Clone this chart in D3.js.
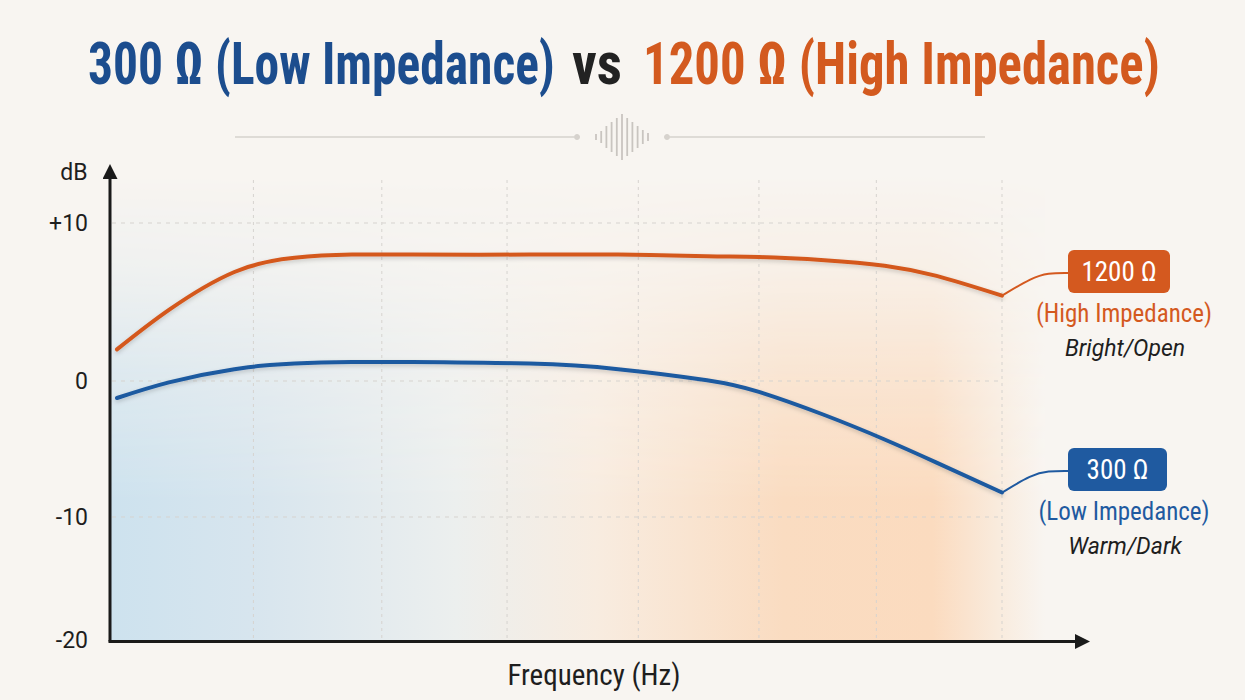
<!DOCTYPE html>
<html>
<head>
<meta charset="utf-8">
<script src="https://cdn.jsdelivr.net/npm/d3@7"></script>
<style>
	body { margin: 0; background: #f8f5f1; }
	svg { display: block; }
</style>
</head>
<body>
<div id="viz"></div>
<script>
var width = 1245;
var height = 700;

// frequency points (Hz) of the two response curves
var freqs = [20, 30, 50, 80, 125, 200, 500, 1000, 2000, 3000, 5000, 8000, 12000, 20000];
// dB values
var high_db = [2.0, 4.5, 6.9, 7.8, 8.0, 8.0, 8.0, 8.0, 7.9, 7.85, 7.65, 7.3, 6.65, 5.4];
var low_db = [-1.25, -0.1, 0.75, 1.1, 1.2, 1.2, 1.1, 0.75, 0.05, -0.8, -2.5, -4.3, -6.0, -8.2];
// dashed grid
var grid_freqs = [58, 158, 420, 1170, 3000, 7500, 20000];
var db_ticks = [10, 0, -10, -20];
var db_grid = [10, 0, -10];
var tick_labels = ["+10", "0", "-10", "-20"];
// title pieces
var title_parts = ["300 Ω (Low Impedance)", "vs", "1200 Ω (High Impedance)"];
// waveform glyph bar heights
var wave_bars = [6, 12, 22, 30, 38, 46, 38, 30, 22, 14, 8];

var blue = "#1f5aa0";
var orange = "#d4591f";
var condensed = "'Roboto Condensed', 'Liberation Sans Narrow', 'DejaVu Sans Condensed', 'Arial Narrow', Roboto, sans-serif";

var x = d3.scaleLog()
	.domain([20, 20000])
	.range([117, 1002]);

// the printed axis is not evenly spaced, so use a piecewise scale
var y = d3.scaleLinear()
	.domain([-20, -10, 0, 10])
	.range([640, 517, 381, 223]);

var svg = d3.select("#viz").append("svg")
	.attr("width", width)
	.attr("height", height);

var defs = svg.append("defs");

var bg = defs.append("linearGradient")
	.attr("id", "bgGrad")
	.attr("x1", "0").attr("x2", "1").attr("y1", "0").attr("y2", "0");
[["0", "#cde2ee"], ["0.15", "#d7e5ee"], ["0.37", "#ecefee"], ["0.52", "#f8ece0"], ["0.72", "#fadcc1"], ["0.88", "#fbdbbf"], ["0.95", "#f9ebdd"], ["1", "#f8f5f1"]]
	.forEach(function(s) {
		bg.append("stop").attr("offset", s[0]).attr("stop-color", s[1]);
	});

var fade = defs.append("linearGradient")
	.attr("id", "fadeGrad")
	.attr("x1", "0").attr("x2", "0").attr("y1", "0").attr("y2", "1");
[["0", "#000"], ["0.2", "#333"], ["0.45", "#aaa"], ["0.7", "#fff"], ["1", "#fff"]]
	.forEach(function(s) {
		fade.append("stop").attr("offset", s[0]).attr("stop-color", s[1]);
	});

defs.append("mask")
	.attr("id", "fadeMask")
	.append("rect")
		.attr("x", 110).attr("y", 175)
		.attr("width", 935).attr("height", 465)
		.attr("fill", "url(#fadeGrad)");

var shadow = defs.append("filter")
	.attr("id", "soft")
	.attr("x", "-5%").attr("y", "-20%").attr("width", "110%").attr("height", "140%");
shadow.append("feDropShadow")
	.attr("dx", 0).attr("dy", 2).attr("stdDeviation", 2)
	.attr("flood-color", "#000").attr("flood-opacity", 0.18);

defs.append("marker")
	.attr("id", "arrow")
	.attr("viewBox", "0 0 10 10")
	.attr("refX", 2).attr("refY", 5)
	.attr("markerWidth", 5).attr("markerHeight", 5)
	.attr("orient", "auto")
	.append("path")
		.attr("d", "M0,0 L10,5 L0,10 z")
		.attr("fill", "#1a1a1a");

// tinted plot background
svg.append("rect")
	.attr("x", 110).attr("y", 175)
	.attr("width", 935).attr("height", 465)
	.attr("fill", "url(#bgGrad)")
	.attr("mask", "url(#fadeMask)");

// title, three pieces, each scaled to the width it has in the original
var title_layout = [
	{ x: 88, w: 467, color: "#1c4d8e" },
	{ x: 572, w: 50, color: "#222" },
	{ x: 643, w: 517, color: "#d35a1f" }
];
svg.selectAll(".title")
		.data(title_parts)
	.enter().append("text")
		.attr("class", "title")
		.attr("font-family", condensed)
		.attr("font-weight", "bold")
		.attr("font-size", 52)
		.attr("fill", function(d, i) { return title_layout[i].color; })
		.text(function(d) { return d; })
		.attr("transform", function(d, i) {
			var natural = this.getComputedTextLength();
			var sx = title_layout[i].w / natural;
			return "translate(" + title_layout[i].x + ",84) scale(" + sx + ",1.14)";
		});

// divider with waveform glyph
var deco = svg.append("g").attr("stroke", "#d6d2cd").attr("fill", "#d6d2cd");
deco.append("line").attr("x1", 235).attr("x2", 574).attr("y1", 137).attr("y2", 137).attr("stroke-width", 1.5);
deco.append("line").attr("x1", 670).attr("x2", 985).attr("y1", 137).attr("y2", 137).attr("stroke-width", 1.5);
deco.append("circle").attr("cx", 577).attr("cy", 137).attr("r", 2.5);
deco.append("circle").attr("cx", 667).attr("cy", 137).attr("r", 2.5);

var wx = d3.scaleLinear()
	.domain([0, wave_bars.length - 1])
	.range([596, 648]);
deco.selectAll(".wave")
		.data(wave_bars)
	.enter().append("line")
		.attr("class", "wave")
		.attr("x1", function(d, i) { return wx(i); })
		.attr("x2", function(d, i) { return wx(i); })
		.attr("y1", function(d) { return 137 - d / 2; })
		.attr("y2", function(d) { return 137 + d / 2; })
		.attr("stroke", "#c9c5c0")
		.attr("stroke-width", 1.8);

// grid
svg.append("g")
	.selectAll("line")
		.data(grid_freqs)
	.enter().append("line")
		.attr("x1", function(d) { return x(d); })
		.attr("x2", function(d) { return x(d); })
		.attr("y1", 180)
		.attr("y2", 638)
		.attr("stroke", "#d6d3cf")
		.attr("stroke-width", 1)
		.attr("stroke-dasharray", "3,4");

svg.append("g")
	.selectAll("line")
		.data(db_grid)
	.enter().append("line")
		.attr("x1", 112)
		.attr("x2", 1002)
		.attr("y1", function(d) { return y(d); })
		.attr("y2", function(d) { return y(d); })
		.attr("stroke", "#d6d3cf")
		.attr("stroke-width", 1)
		.attr("stroke-dasharray", "4,5");

// axes
svg.append("line")
	.attr("x1", 110).attr("y1", y(-20) + 1.5)
	.attr("x2", 110).attr("y2", 176)
	.attr("stroke", "#1a1a1a")
	.attr("stroke-width", 3)
	.attr("marker-end", "url(#arrow)");

svg.append("line")
	.attr("x1", 108.5).attr("y1", y(-20) + 1.5)
	.attr("x2", 1078).attr("y2", y(-20) + 1.5)
	.attr("stroke", "#1a1a1a")
	.attr("stroke-width", 3)
	.attr("marker-end", "url(#arrow)");

svg.append("g")
	.selectAll("text")
		.data(db_ticks)
	.enter().append("text")
		.attr("x", 88)
		.attr("y", function(d) { return y(d) + 8; })
		.attr("text-anchor", "end")
		.attr("font-family", "Roboto, 'Noto Sans', sans-serif")
		.attr("font-size", 23)
		.attr("fill", "#1e1e1e")
		.text(function(d, i) { return tick_labels[i]; });

svg.append("text")
	.attr("x", 74).attr("y", 180)
	.attr("text-anchor", "middle")
	.attr("font-family", "Roboto, 'Noto Sans', sans-serif")
	.attr("font-size", 23)
	.attr("fill", "#1e1e1e")
	.text("dB");

svg.append("text")
	.attr("x", 594).attr("y", 685)
	.attr("text-anchor", "middle")
	.attr("font-family", condensed)
	.attr("font-size", 29)
	.attr("fill", "#1e1e1e")
	.text("Frequency (Hz)");

// response curves
var line = d3.line()
	.x(function(d) { return x(d[0]); })
	.y(function(d) { return y(d[1]); })
	.curve(d3.curveNatural);

var series = [
	{ key: "high", color: orange, values: d3.zip(freqs, high_db), badge: "1200 Ω", sub: "(High Impedance)", note: "Bright/Open", by: 250, bw: 102 },
	{ key: "low", color: blue, values: d3.zip(freqs, low_db), badge: "300 Ω", sub: "(Low Impedance)", note: "Warm/Dark", by: 448, bw: 99 }
];

svg.selectAll(".curve")
		.data(series)
	.enter().append("path")
		.attr("class", "curve")
		.attr("d", function(d) { return line(d.values); })
		.attr("fill", "none")
		.attr("stroke", function(d) { return d.color; })
		.attr("stroke-width", 4)
		.attr("stroke-linecap", "round")
		.attr("filter", "url(#soft)");

// callouts
var connector = d3.line().curve(d3.curveBasis);

var callout = svg.selectAll(".callout")
		.data(series)
	.enter().append("g")
		.attr("class", "callout");

callout.append("path")
	.attr("d", function(d) {
		var last = d.values[d.values.length - 1];
		var sx = x(last[0]), sy = y(last[1]);
		var ey = d.by + 23;
		return connector([[sx, sy], [sx + 30, sy - 18], [1048, ey], [1068, ey]]);
	})
	.attr("fill", "none")
	.attr("stroke", function(d) { return d.color; })
	.attr("stroke-width", 2);

callout.append("rect")
	.attr("x", 1068)
	.attr("y", function(d) { return d.by; })
	.attr("width", function(d) { return d.bw; })
	.attr("height", 43)
	.attr("rx", 6)
	.attr("fill", function(d) { return d.color; });

callout.append("text")
	.attr("x", function(d) { return 1068 + d.bw / 2; })
	.attr("y", function(d) { return d.by + 31; })
	.attr("text-anchor", "middle")
	.attr("font-family", condensed)
	.attr("font-size", 27)
	.attr("fill", "#fff")
	.text(function(d) { return d.badge; });

callout.append("text")
	.attr("x", 1124)
	.attr("y", function(d) { return d.by + 72; })
	.attr("text-anchor", "middle")
	.attr("font-family", condensed)
	.attr("font-size", 25)
	.attr("fill", function(d) { return d.color; })
	.text(function(d) { return d.sub; });

callout.append("text")
	.attr("x", 1125)
	.attr("y", function(d) { return d.by + 106; })
	.attr("text-anchor", "middle")
	.attr("font-family", "Roboto, 'Noto Sans', sans-serif")
	.attr("font-style", "italic")
	.attr("font-size", 23)
	.attr("fill", "#1e1e1e")
	.text(function(d) { return d.note; });
</script>
</body>
</html>
